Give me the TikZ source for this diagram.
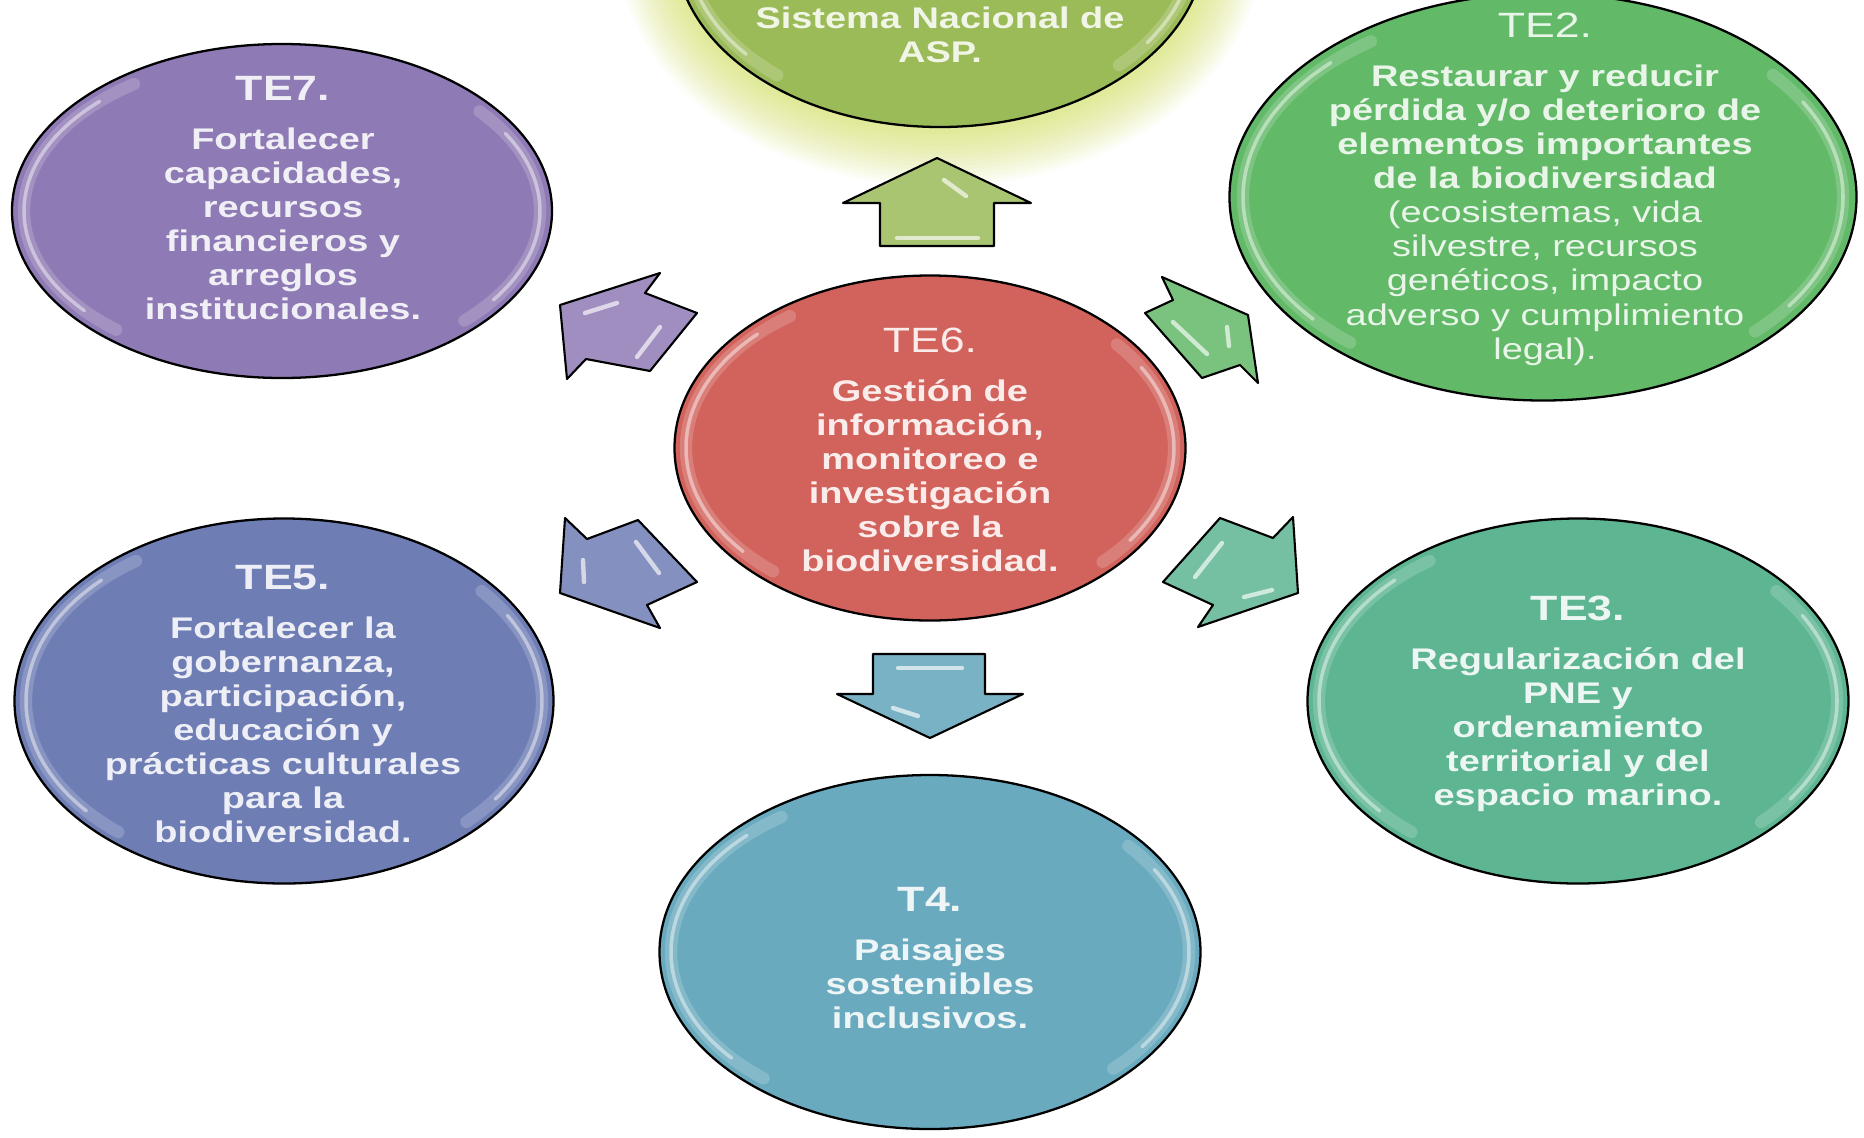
\documentclass[tikz,border=0pt]{standalone}
\usepackage{fontspec}
\setmainfont[FakeStretch=1.27]{Liberation Sans}
\usepackage{xcolor}
\usetikzlibrary{shapes,positioning}
\definecolor{mpurple}{HTML}{8E7AB4}
\definecolor{molive}{HTML}{9BBB59}
\definecolor{mgreen}{HTML}{62B968}
\definecolor{mred}{HTML}{D2625C}
\definecolor{mblue}{HTML}{6E7DB4}
\definecolor{mteal}{HTML}{5DB592}
\definecolor{mcyan}{HTML}{6AAABF}
\tikzstyle{bubble}=[ellipse, draw=black, line width=1.3pt, inner sep=0pt]
\tikzstyle{rim}=[white, opacity=0.18, line width=7pt, line cap=round]
\tikzstyle{rim1}=[white, opacity=0.45, line width=2pt, line cap=round]
\tikzstyle{txt}=[align=center, inner sep=0pt, font=\fontsize{17}{19.4}\selectfont\bfseries]
\tikzstyle{barrow}=[draw=black, line width=1.2pt, line join=round]
\tikzstyle{shine}=[white, opacity=0.65, line width=2.5pt, line cap=round]
\newcommand{\tit}[1]{{\fontsize{20}{19.4}\selectfont #1}}
\newcommand{\titr}[1]{{\mdseries\fontsize{20}{19.4}\selectfont #1}}

\begin{document}
\begin{tikzpicture}[x=0.2mm,y=-0.2mm]
    \fill[white] (0,0) rectangle (1864,1137);
    \useasboundingbox (0,0) rectangle (1864,1137);

    % glow round TE1
    \foreach \k in {1,...,14}
        \fill[molive!55!yellow, opacity=0.045] (940,-52) ellipse [x radius=265+4*\k, y radius=182+4*\k];

    \node[bubble, fill=molive,  minimum width=106mm,  minimum height=72.8mm] (te1) at (940,-55) {};
    \node[bubble, fill=mpurple, minimum width=108mm,  minimum height=66.8mm] (te7) at (282,211) {};
    \node[bubble, fill=mgreen,  minimum width=125.4mm, minimum height=81.4mm] (te2) at (1543,197) {};
    \node[bubble, fill=mred,    minimum width=102.2mm, minimum height=69mm]   (te6) at (930,448) {};
    \node[bubble, fill=mblue,   minimum width=107.8mm, minimum height=73mm]   (te5) at (284,701) {};
    \node[bubble, fill=mteal,   minimum width=108.2mm, minimum height=73mm]   (te3) at (1578,701) {};
    \node[bubble, fill=mcyan,   minimum width=108.2mm, minimum height=70.8mm] (t4)  at (930,952) {};

    \foreach \n/\rx/\ry in {te1/253/170, te7/258/155, te2/300/190, te6/244/161, te5/258/171, te3/259/171, t4/259/165} {
        \draw[rim] ([shift={(130:{\rx} and {\ry})}]\n.center) arc[start angle=130, end angle=235, x radius=\rx, y radius=\ry];
        \draw[rim1] ([shift={(140:{\rx} and {\ry})}]\n.center) arc[start angle=140, end angle=225, x radius=\rx, y radius=\ry];
        \draw[rim] ([shift={(-40:{\rx} and {\ry})}]\n.center) arc[start angle=-40, end angle=45, x radius=\rx, y radius=\ry];
        \draw[rim1] ([shift={(-30:{\rx} and {\ry})}]\n.center) arc[start angle=-30, end angle=35, x radius=\rx, y radius=\ry];
    }

    % block arrows
    \draw[barrow, fill=molive!85!white] (937,158) -- (1031,203) -- (994,203) -- (994,246) -- (880,246) -- (880,203) -- (843,203) -- cycle;
    \draw[barrow, fill=mpurple!85!white] (560,305) -- (660,273) -- (645,293) -- (697,313) -- (650,371) -- (586,359) -- (567,379) -- cycle;
    \draw[barrow, fill=mgreen!85!white] (1162,277) -- (1173,300) -- (1145,313) -- (1202,378) -- (1240,365) -- (1258,383) -- (1248,315) -- cycle;
    \draw[barrow, fill=mblue!85!white] (560,593) -- (565,518) -- (587,539) -- (638,520) -- (697,582) -- (647,605) -- (660,628) -- cycle;
    \draw[barrow, fill=mteal!85!white] (1220,518) -- (1273,538) -- (1293,517) -- (1298,593) -- (1198,627) -- (1213,605) -- (1163,582) -- cycle;
    \draw[barrow, fill=mcyan!90!white] (873,654) -- (985,654) -- (985,694) -- (1023,694) -- (930,738) -- (837,694) -- (873,694) -- cycle;

    \draw[shine] (944,180) -- (966,196);
    \draw[shine] (897,238) -- (978,238);
    \draw[shine] (585,313) -- (617,303);
    \draw[shine] (637,357) -- (660,327);
    \draw[shine] (1173,322) -- (1207,354);
    \draw[shine] (1227,327) -- (1229,346);
    \draw[shine] (583,560) -- (584,582);
    \draw[shine] (636,542) -- (659,573);
    \draw[shine] (1195,577) -- (1222,543);
    \draw[shine] (1244,597) -- (1272,590);
    \draw[shine] (898,668) -- (962,668);
    \draw[shine] (893,708) -- (918,716);

    % texts
    \node[txt, text=white!85!molive] (te1t) at (940,35) {Sistema Nacional de\\ ASP.};
    \node[txt, text=white!88!mpurple] (te7t) at (283,198) {\tit{TE7.}\\[8.6pt] Fortalecer\\ capacidades,\\ recursos\\ financieros y\\ arreglos\\ institucionales.};
    \node[txt, text=white!85!mgreen] (te2t) at (1545,189) {\titr{TE2.}\\[8.6pt] Restaurar y reducir\\ pérdida y/o deterioro de\\ elementos importantes\\ de la biodiversidad\\ \mdseries (ecosistemas, vida\\ \mdseries silvestre, recursos\\ \mdseries genéticos, impacto\\ \mdseries adverso y cumplimiento\\ \mdseries legal).};
    \node[txt, text=white!88!mred] (te6t) at (930,450) {\titr{TE6.}\\[8.6pt] Gestión de\\ información,\\ monitoreo e\\ investigación\\ sobre la\\ biodiversidad.};
    \node[txt, text=white!88!mblue] (te5t) at (283,704) {\tit{TE5.}\\[8.6pt] Fortalecer la\\ gobernanza,\\ participación,\\ educación y\\ prácticas culturales\\ para la\\ biodiversidad.};
    \node[txt, text=white!88!mteal] (te3t) at (1578,704) {\tit{TE3.}\\[8.6pt] Regularización del\\ PNE y\\ ordenamiento\\ territorial y del\\ espacio marino.};
    \node[txt, text=white!88!mcyan] (t4t) at (930,958) {\tit{T4.}\\[8.6pt] Paisajes\\ sostenibles\\ inclusivos.};
\end{tikzpicture}
\end{document}
